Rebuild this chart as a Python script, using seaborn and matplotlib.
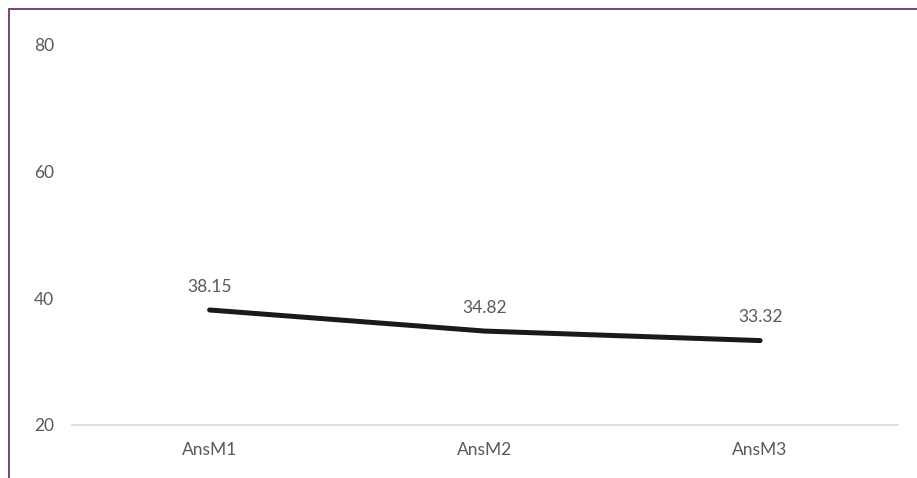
import matplotlib
matplotlib.use("Agg")
import matplotlib.pyplot as plt
import seaborn as sns
import pandas as pd
from matplotlib.lines import Line2D

categories = ["AnsM1", "AnsM2", "AnsM3"]
values = [38.15, 34.82, 33.32]
y_ticks = [20, 40, 60, 80]

sns.set_style("white")
plt.rcParams['font.family'] = ['Lato', 'DejaVu Sans']

df = pd.DataFrame({"model": categories, "score": values})

fig = plt.figure(figsize=(9.17, 4.78), dpi=100)
ax = fig.add_axes([0.0785, 0.111, 0.9005, 0.795])

sns.lineplot(data=df, x="model", y="score", ax=ax, color="#1a1a1a",
             linewidth=3.6, solid_capstyle="round", sort=False)

for i, v in enumerate(values):
    ax.annotate(f"{v:.2f}", (i, v), xytext=(0, 11), textcoords="offset points",
                ha="center", va="bottom", fontsize=12.5, color="#595959")

ax.set_ylim(20, 80)
ax.set_xlim(-0.5, 2.5)
ax.set_yticks(y_ticks)
ax.set_xlabel("")
ax.set_ylabel("")
ax.tick_params(axis="both", length=0, labelsize=12.5, labelcolor="#595959")
ax.tick_params(axis="y", pad=13)
ax.tick_params(axis="x", pad=12)

for side in ["top", "right", "left"]:
    ax.spines[side].set_visible(False)
ax.spines["bottom"].set_color("#d9d9d9")
ax.spines["bottom"].set_linewidth(1.2)

# outer purple frame (top and left edges only)
border = "#7e3f7e"
fig.add_artist(Line2D([9 / 917, 1.0], [1 - 9 / 478, 1 - 9 / 478], transform=fig.transFigure,
                      color=border, linewidth=1.4))
fig.add_artist(Line2D([9 / 917, 9 / 917], [0.0, 1 - 9 / 478], transform=fig.transFigure,
                      color=border, linewidth=1.4))

fig.savefig("out.png", dpi=100, facecolor="white")
